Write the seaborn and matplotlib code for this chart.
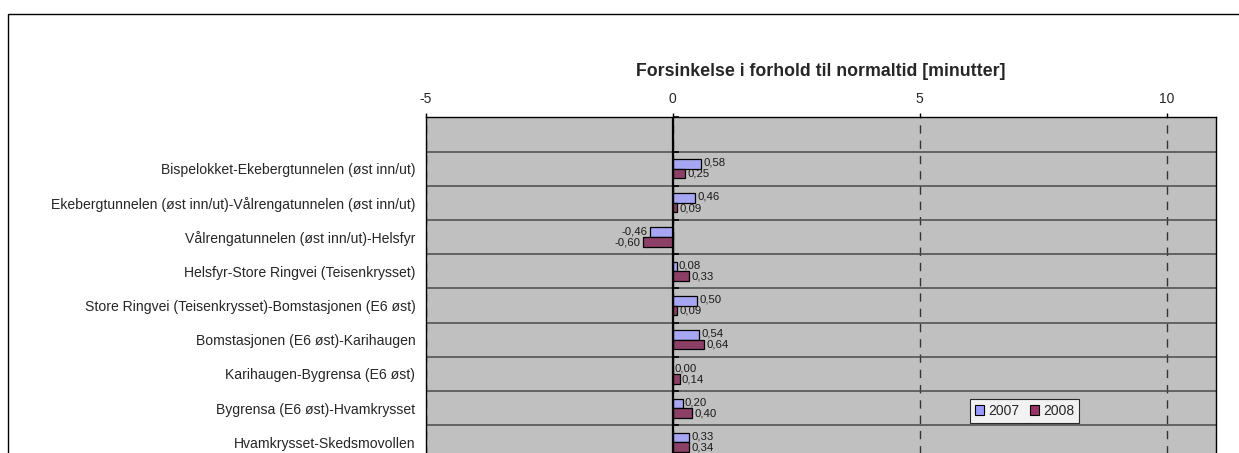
import numpy as np
import pandas as pd
import seaborn as sns
import matplotlib.pyplot as plt
from matplotlib.patches import Patch, Rectangle

strekninger = [
    "Bispelokket-Ekebergtunnelen (øst inn/ut)",
    "Ekebergtunnelen (øst inn/ut)-Vålrengatunnelen (øst inn/ut)",
    "Vålrengatunnelen (øst inn/ut)-Helsfyr",
    "Helsfyr-Store Ringvei (Teisenkrysset)",
    "Store Ringvei (Teisenkrysset)-Bomstasjonen (E6 øst)",
    "Bomstasjonen (E6 øst)-Karihaugen",
    "Karihaugen-Bygrensa (E6 øst)",
    "Bygrensa (E6 øst)-Hvamkrysset",
    "Hvamkrysset-Skedsmovollen",
]
aar = ["2007", "2008"]
forsinkelse_2007 = [0.58, 0.46, -0.46, 0.08, 0.50, 0.54, 0.00, 0.20, 0.33]
forsinkelse_2008 = [0.25, 0.09, -0.60, 0.33, 0.09, 0.64, 0.14, 0.40, 0.34]
xticks = [-5, 0, 5, 10]
farger = {"2007": "#9999FF", "2008": "#993366"}

df = pd.DataFrame({
    "Strekning": strekninger * 2,
    "År": ["2007"] * len(strekninger) + ["2008"] * len(strekninger),
    "Forsinkelse": forsinkelse_2007 + forsinkelse_2008,
})

sns.set_style("white")
plt.rcParams["font.family"] = ["Liberation Sans", "DejaVu Sans"]
plt.rcParams["axes.unicode_minus"] = False

fig = plt.figure(figsize=(12.39, 4.53), dpi=100)
ax = fig.add_axes([0.3436, -0.01435, 0.6378, 0.7554])
ax.set_facecolor("#C0C0C0")

sns.barplot(data=df, y="Strekning", x="Forsinkelse", hue="År", hue_order=aar,
            orient="h", palette=farger, width=0.56, edgecolor="black",
            linewidth=0.9, legend=False, ax=ax, zorder=3)

# value labels with comma decimals (2007 a hair above its bar centre)
for cont, verdier, dy in zip(ax.containers, [forsinkelse_2007, forsinkelse_2008], [0.8, -0.3]):
    tekster = ax.bar_label(cont, labels=[f"{v:.2f}".replace(".", ",") for v in verdier],
                           padding=1.5, fontsize=8.2, color="#1a1a1a")
    for t in tekster:
        x0, _ = t.xyann
        t.xyann = (x0, dy)

ax.set_xlim(-5, 11)
ax.set_ylim(8.5, -1.5)
ax.set_xticks(xticks)
ax.xaxis.tick_top()
ax.tick_params(axis="x", direction="out", length=3, width=1, pad=5,
               labelsize=10, top=True, bottom=False, color="black")
ax.tick_params(axis="y", which="major", length=0, pad=7.5, labelsize=10.1)
ax.tick_params(axis="y", which="minor", length=0)
ax.set_xlabel("")
ax.set_ylabel("")

# row separators and dashed vertical grid
ax.set_yticks(np.arange(-1.5, 9.0, 1.0), minor=True)
ax.grid(which="minor", axis="y", color="#4a4a4a", lw=1.1, zorder=1)
ax.grid(which="major", axis="y", visible=False)
ax.grid(which="major", axis="x", color="#333333", lw=1, ls=(0, (6, 5)), zorder=1)

# zero axis with small ticks at row boundaries
ax.axvline(0, color="black", lw=1.6, zorder=4)
grenser = np.arange(-1.5, 9.0, 1.0)
ax.plot(np.zeros(len(grenser)), grenser, ls="none", marker=1, markersize=4,
        mew=1.2, color="black", zorder=4, clip_on=False)

for s in ax.spines.values():
    s.set_visible(True)
    s.set_color("black")
    s.set_linewidth(1)

ax.set_title("Forsinkelse i forhold til normaltid [minutter]", fontsize=12.8,
             fontweight="bold", y=1.135, va="center", pad=0)

handles = [Patch(facecolor=farger[a], edgecolor="black", lw=0.8, label=a) for a in aar]
leg = ax.legend(handles=handles, loc="center", bbox_to_anchor=(0.758, 0.142),
                ncol=2, frameon=True, fancybox=False, fontsize=10,
                handlelength=0.65, handleheight=0.65, handletextpad=0.3,
                columnspacing=0.8, borderpad=0.35)
leg.get_frame().set_edgecolor("black")
leg.get_frame().set_facecolor("white")
leg.get_frame().set_linewidth(0.8)
leg.set_zorder(5)

# outer chart frame (extends past the cropped edges)
fig.add_artist(Rectangle((8 / 1239, -0.5), 1.2, 1.5 - 14 / 453,
                         transform=fig.transFigure, fill=False,
                         edgecolor="black", lw=1))

fig.savefig("out.png", dpi=100)
